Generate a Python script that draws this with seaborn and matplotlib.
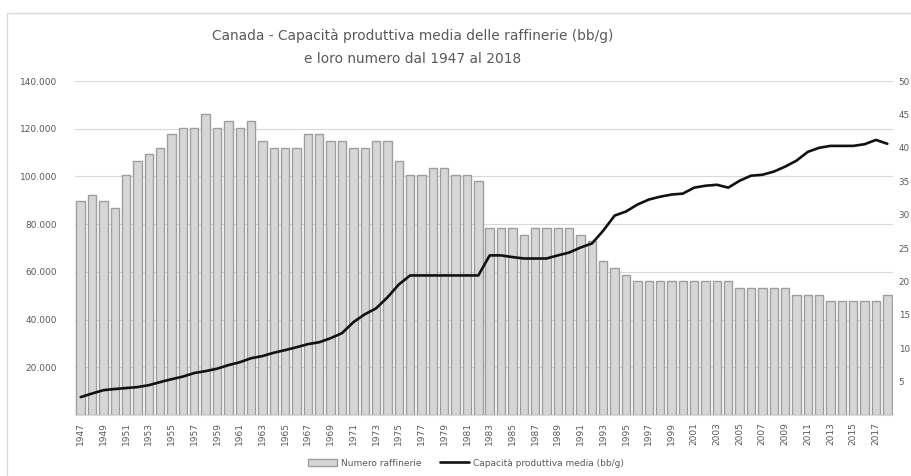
import numpy as np
import pandas as pd
import matplotlib
matplotlib.use("Agg")
import matplotlib.pyplot as plt
import seaborn as sns
from matplotlib.patches import Rectangle, Patch
from matplotlib.lines import Line2D
from matplotlib.ticker import FuncFormatter, MultipleLocator

# ---------------- data ----------------
years = list(range(1947, 2019))

refinery_count = [
    32, 33, 32, 31, 36, 38, 39, 40, 42, 43,   # 1947-1956
    43, 45, 43, 44, 43, 44, 41, 40, 40, 40,   # 1957-1966
    42, 42, 41, 41, 40, 40, 41, 41, 38, 36,   # 1967-1976
    36, 37, 37, 36, 36, 35, 28, 28, 28, 27,   # 1977-1986
    28, 28, 28, 28, 27, 26, 23, 22, 21, 20,   # 1987-1996
    20, 20, 20, 20, 20, 20, 20, 20, 19, 19,   # 1997-2006
    19, 19, 19, 18, 18, 18, 17, 17, 17, 17,   # 2007-2016
    17, 18,                                   # 2017-2018
]

avg_capacity = [
    7500, 9000, 10400, 10900, 11300, 11700, 12500, 13800, 15000, 16100,        # 1947-1956
    17600, 18400, 19400, 20900, 22100, 23800, 24700, 26100, 27200, 28400,      # 1957-1966
    29700, 30500, 32200, 34300, 38900, 42200, 44700, 49300, 54700, 58500,      # 1967-1976
    58500, 58500, 58500, 58500, 58500, 58500, 66900, 66900, 66200, 65600,      # 1977-1986
    65600, 65600, 66900, 68100, 70200, 71900, 77300, 83600, 85300, 88200,      # 1987-1996
    90300, 91500, 92400, 92800, 95300, 96100, 96500, 95300, 98200, 100300,     # 1997-2006
    100700, 102000, 104100, 106600, 110300, 112000, 112800, 112800, 112800, 113500,  # 2007-2016
    115300, 113700,                                                           # 2017-2018
]

title_lines = ["Canada - Capacità produttiva media delle raffinerie (bb/g)",
               "e loro numero dal 1947 al 2018"]
bar_label = "Numero raffinerie"
line_label = "Capacità produttiva media (bb/g)"

left_max, left_step = 140000, 20000
right_max, right_step = 50, 5

df = pd.DataFrame({
    "year": [str(y) for y in years],
    "pos": np.arange(len(years)),
    "count": refinery_count,
    "capacity": avg_capacity,
})

# ---------------- style ----------------
sns.set_theme(style="white")
plt.rcParams["font.family"] = ["DejaVu Sans"]

W, H = 912, 476
fig = plt.figure(figsize=(W / 100, H / 100), dpi=100)
ax = fig.add_axes([75 / W, 1 - 415 / H, (893 - 75) / W, (415 - 81) / H])
ax2 = ax.twinx()   # bars (number of refineries), right axis
ax3 = ax.twinx()   # line (capacity), same scale as left axis

txt = "#595959"
grid_c = "#d9d9d9"
bar_face = "#d6d6d6"
bar_edge = "#9e9e9e"

# bars
sns.barplot(data=df, x="year", y="count", ax=ax2, color=bar_face,
            edgecolor=bar_edge, linewidth=1.0, width=0.74, saturation=1)
# line
sns.lineplot(data=df, x="pos", y="capacity", ax=ax3, color="#111111",
             linewidth=1.9)

n = len(years)
for a in (ax, ax2, ax3):
    a.set_xlim(-0.5, n - 0.5)
    a.set_xlabel("")
    a.set_ylabel("")
    for s in ("top", "left", "right", "bottom"):
        a.spines[s].set_visible(False)

ax.spines["bottom"].set_visible(True)
ax.spines["bottom"].set_color(grid_c)
ax.spines["bottom"].set_linewidth(0.8)

# left axis (capacity)
ax.set_ylim(0, left_max)
ax3.set_ylim(0, left_max)
ax.yaxis.set_major_locator(MultipleLocator(left_step))
ax.yaxis.set_major_formatter(FuncFormatter(
    lambda v, p: "" if v == 0 else f"{int(round(v)):,}".replace(",", ".")))
ax.yaxis.grid(True, color=grid_c, linewidth=0.8)
ax.xaxis.grid(False)
ax.tick_params(axis="y", length=0, pad=13, labelsize=6.5, labelcolor=txt)
ax3.yaxis.set_visible(False)

# right axis (count)
ax2.set_ylim(0, right_max)
ax2.yaxis.set_major_locator(MultipleLocator(right_step))
ax2.yaxis.set_major_formatter(FuncFormatter(
    lambda v, p: "" if v == 0 else f"{int(round(v))}"))
ax2.grid(False)
ax2.tick_params(axis="y", length=0, pad=4, labelsize=6.3, labelcolor=txt)
ax3.grid(False)

# x ticks every two years
ax.set_xticks(np.arange(0, n, 2))
ax.set_xticklabels([str(y) for y in years[::2]], rotation=90)
ax.tick_params(axis="x", length=0, pad=5, labelsize=6.5, labelcolor=txt)

# title
fig.text(413 / W, 1 - 36 / H, title_lines[0], ha="center", va="center",
         fontsize=9.9, color=txt)
fig.text(413 / W, 1 - 59 / H, title_lines[1], ha="center", va="center",
         fontsize=9.9, color=txt)

# legend
handles = [Patch(facecolor=bar_face, edgecolor=bar_edge, linewidth=1.0),
           Line2D([], [], color="#111111", linewidth=1.9)]
leg = fig.legend(handles, [bar_label, line_label], loc="center",
                 bbox_to_anchor=(466 / W, 1 - 463 / H), ncol=2, frameon=False,
                 fontsize=6.5, handlelength=3.2, columnspacing=2.0,
                 handletextpad=0.5)
for t in leg.get_texts():
    t.set_color(txt)

# chart border (left/top visible)
fig.patches.append(Rectangle((7 / W, -0.2), 1.3, 1.2 - 13 / H,
                             transform=fig.transFigure, fill=False,
                             edgecolor=grid_c, linewidth=1.0))

fig.savefig("out.png", dpi=100, facecolor="white")
